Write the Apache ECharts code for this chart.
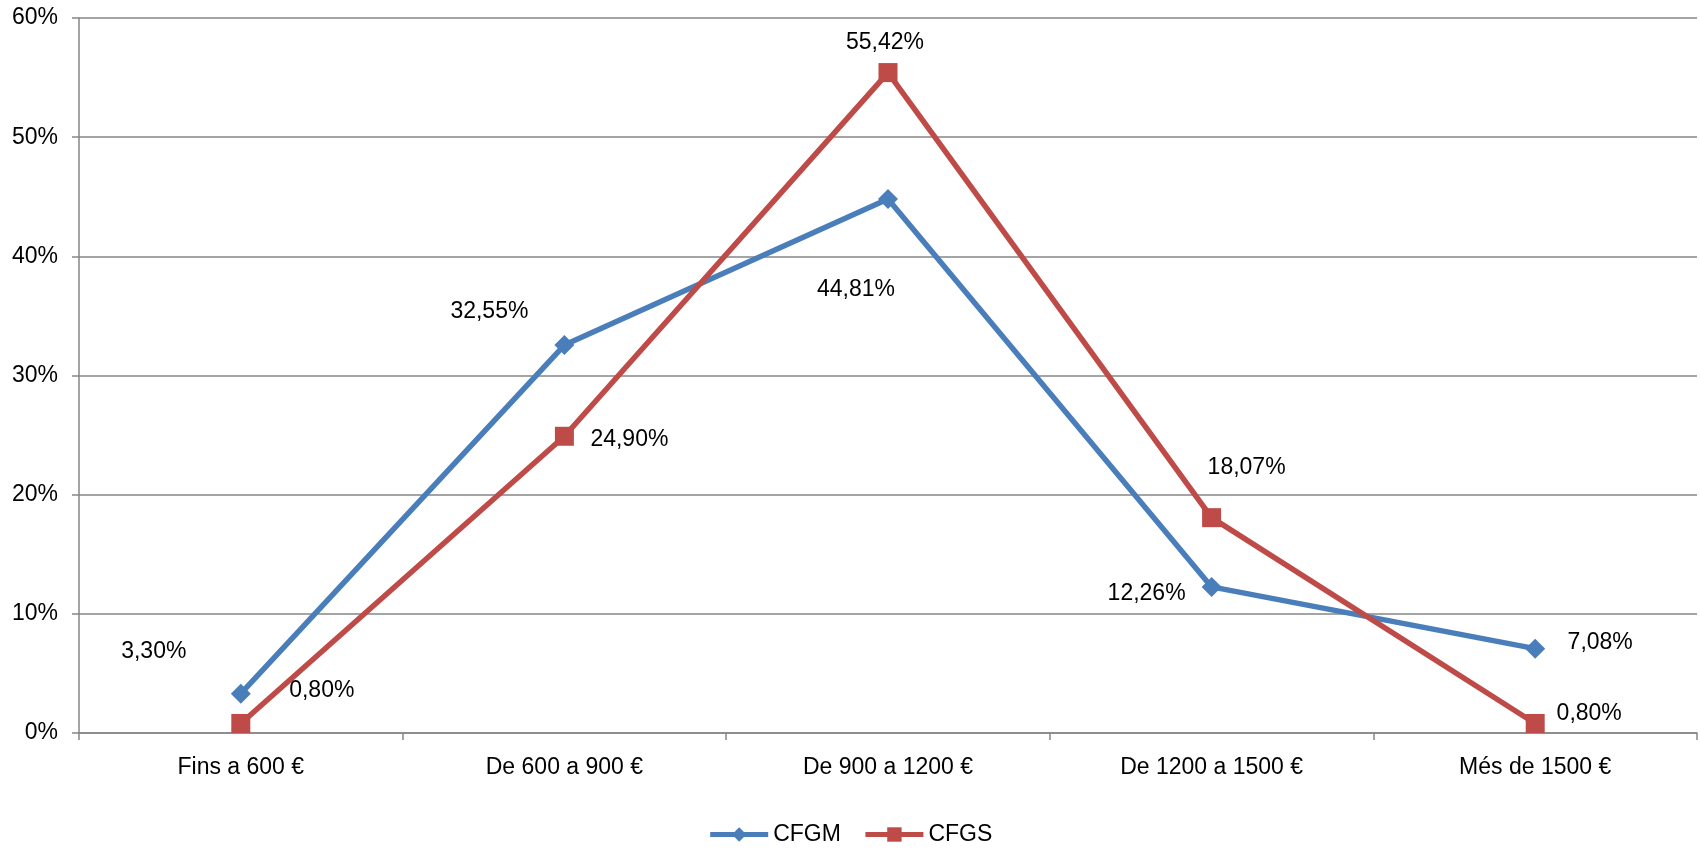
<!DOCTYPE html>
<html>
<head>
<meta charset="utf-8">
<script src="https://cdn.jsdelivr.net/npm/echarts@6/dist/echarts.min.js"></script>
<style>
html, body { margin: 0; padding: 0; background: #fff; }
#chart { width: 1700px; height: 857px; }
</style>
</head>
<body>
<div id="chart"></div>
<script>
var categories = ['Fins a 600 €', 'De 600 a 900 €', 'De 900 a 1200 €', 'De 1200 a 1500 €', 'Més de 1500 €'];
var cfgm = [3.30, 32.55, 44.81, 12.26, 7.08];
var cfgs = [0.80, 24.90, 55.42, 18.07, 0.80];
var yTicks = [0, 10, 20, 30, 40, 50, 60];

// where each data label sits relative to its point (px)
var cfgmLabelOffset = [[-87, -42], [-75, -33], [-32, 91], [-65, 7], [65, -6]];
var cfgsLabelOffset = [[81, -33], [65, 3], [-3, -30], [35, -50], [54, -10]];

var font = 'Liberation Sans';
var fs = 23;

function pct(v) {
    return v.toFixed(2).replace('.', ',') + '%';
}

function withLabels(values, offsets) {
    return values.map(function (v, i) {
        return {
            value: v,
            label: { offset: offsets[i] }
        };
    });
}

var chart = echarts.init(document.getElementById('chart'));
chart.setOption({
    animation: false,
    textStyle: { fontFamily: font },
    grid: { left: 79, right: 3, top: 18, bottom: 124 },
    legend: {
        bottom: 6,
        left: 'center',
        itemWidth: 58,
        itemHeight: 18,
        itemGap: 22,
        lineStyle: { width: 5 },
        textStyle: { fontSize: fs, color: '#000', fontFamily: font },
        data: ['CFGM', 'CFGS']
    },
    xAxis: {
        type: 'category',
        data: categories,
        boundaryGap: true,
        axisLine: { lineStyle: { color: '#868686', width: 1.5 } },
        axisTick: { show: true, length: 7, lineStyle: { color: '#868686', width: 1.5 } },
        axisLabel: { color: '#000', fontSize: fs, margin: 23, fontFamily: font },
        splitLine: { show: false }
    },
    yAxis: {
        type: 'value',
        min: yTicks[0],
        max: yTicks[yTicks.length - 1],
        interval: 10,
        axisLine: { show: true, lineStyle: { color: '#868686', width: 1.5 } },
        axisTick: { show: true, length: 7, lineStyle: { color: '#868686', width: 1.5 } },
        axisLabel: {
            color: '#000', fontSize: fs, margin: 21, fontFamily: font,
            formatter: function (v) { return v + '%'; }
        },
        splitLine: { show: true, lineStyle: { color: '#868686', width: 1.5 } }
    },
    series: [
        {
            name: 'CFGM',
            type: 'line',
            data: withLabels(cfgm, cfgmLabelOffset),
            symbol: 'diamond',
            symbolSize: 20,
            color: '#4A7EBB',
            lineStyle: { width: 5.5, color: '#4A7EBB' },
            itemStyle: { color: '#4A7EBB' },
            label: {
                show: true,
                position: 'inside',
                color: '#000',
                fontSize: fs,
                fontFamily: font,
                formatter: function (p) { return pct(p.value); }
            },
            z: 3
        },
        {
            name: 'CFGS',
            type: 'line',
            data: withLabels(cfgs, cfgsLabelOffset),
            symbol: 'rect',
            symbolSize: 19,
            color: '#BE4B48',
            lineStyle: { width: 5.5, color: '#BE4B48' },
            itemStyle: { color: '#BE4B48' },
            label: {
                show: true,
                position: 'inside',
                color: '#000',
                fontSize: fs,
                fontFamily: font,
                formatter: function (p) { return pct(p.value); }
            },
            z: 4
        }
    ]
});
</script>
</body>
</html>
